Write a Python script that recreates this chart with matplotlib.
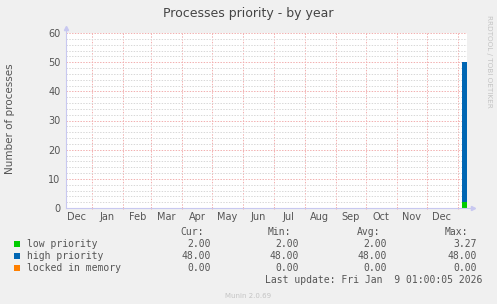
import matplotlib
matplotlib.use("Agg")
import matplotlib.pyplot as plt
import matplotlib.dates as mdates
import numpy as np
import pandas as pd
from matplotlib.patches import Rectangle
from matplotlib.ticker import MultipleLocator, NullFormatter

W, H = 497, 304
BG = "#f0f0f0"
AXIS_COLOR = "#c8c8f0"
MAJOR_GRID = "#f2b0b0"
MINOR_GRID = "#d8d8d8"
TEXT_COLOR = "#555555"

# data
dates = pd.to_datetime(["2026-01-05", "2026-01-10"])
low_priority = [2.0, 2.0]
high_priority = [48.0, 48.0]
locked_in_memory = [0.0, 0.0]

series_names = ["low priority", "high priority", "locked in memory"]
series_colors = ["#00cc00", "#0066b3", "#ff8000"]
cur = ["2.00", "48.00", "0.00"]
mins = ["2.00", "48.00", "0.00"]
avgs = ["2.00", "48.00", "0.00"]
maxs = ["3.27", "48.00", "0.00"]

x_start = pd.Timestamp("2024-12-06")
x_end = pd.Timestamp("2026-01-10")


def fx(px):
    return px / W


def fy(py):
    return 1 - py / H


fig = plt.figure(figsize=(W / 100, H / 100), dpi=100, facecolor=BG)
ax = fig.add_axes([fx(66), fy(208), fx(467) - fx(66), fy(33) - fy(208)])
ax.set_facecolor("white")

# stacked areas
base = np.zeros(len(dates))
for vals, color in zip([low_priority, high_priority, locked_in_memory], series_colors):
    top = base + np.array(vals)
    ax.fill_between(dates, base, top, color=color, linewidth=0, zorder=3)
    base = top

ax.set_xlim(x_start, x_end)
ax.set_ylim(0, 60)

ax.yaxis.set_major_locator(MultipleLocator(10))
ax.yaxis.set_minor_locator(MultipleLocator(2))
ax.xaxis.set_major_locator(mdates.MonthLocator())
ax.xaxis.set_major_formatter(NullFormatter())
ax.xaxis.set_minor_locator(mdates.MonthLocator(bymonthday=16))
ax.xaxis.set_minor_formatter(mdates.DateFormatter("%b"))

ax.grid(which="major", axis="both", color=MAJOR_GRID, linestyle=(0, (1.4, 1.4)), linewidth=0.72, zorder=1)
ax.grid(which="minor", axis="y", color=MINOR_GRID, linestyle=(0, (1.4, 1.4)), linewidth=0.72, zorder=0)

ax.tick_params(axis="y", which="major", length=0, labelsize=7, labelcolor=TEXT_COLOR, pad=4)
ax.tick_params(axis="y", which="minor", length=0)
ax.tick_params(axis="x", which="major", length=2, color=MAJOR_GRID, direction="inout")
ax.tick_params(axis="x", which="minor", length=0, labelsize=7, labelcolor=TEXT_COLOR, pad=3)

for s in ax.spines.values():
    s.set_visible(False)

# axis lines with arrows
ax.plot([0, 0], [0, 1.03], transform=ax.transAxes, color=AXIS_COLOR, lw=0.8, clip_on=False, zorder=4)
ax.plot([0, 1.015], [0, 0], transform=ax.transAxes, color=AXIS_COLOR, lw=0.8, clip_on=False, zorder=4)
ax.plot([0], [1.03], marker="^", ms=3, color=AXIS_COLOR, transform=ax.transAxes, clip_on=False, zorder=4)
ax.plot([1.015], [0], marker=">", ms=3, color=AXIS_COLOR, transform=ax.transAxes, clip_on=False, zorder=4)

fig.text(fx(248), fy(14), "Processes priority - by year", ha="center", va="center",
         fontsize=9, color="#444444")
fig.text(fx(10), fy(119), "Number of processes", rotation=90, ha="center", va="center",
         fontsize=7.5, color=TEXT_COLOR)
fig.text(fx(489), fy(15), "RRDTOOL / TOBI OETIKER", rotation=270, ha="center", va="top",
         fontsize=5.2, color="#c4c4c4")

# legend table
mono = "DejaVu Sans Mono"
fig.text(fx(204), fy(232), "Cur:", ha="right", va="center", family=mono, fontsize=7, color=TEXT_COLOR)
fig.text(fx(291), fy(232), "Min:", ha="right", va="center", family=mono, fontsize=7, color=TEXT_COLOR)
fig.text(fx(380), fy(232), "Avg:", ha="right", va="center", family=mono, fontsize=7, color=TEXT_COLOR)
fig.text(fx(468), fy(232), "Max:", ha="right", va="center", family=mono, fontsize=7, color=TEXT_COLOR)

row_y = [244, 256, 268]
for i, name in enumerate(series_names):
    y = row_y[i]
    fig.patches.append(Rectangle((fx(14), fy(y + 3)), fx(6), 6 / H, transform=fig.transFigure,
                                 facecolor=series_colors[i], edgecolor="none"))
    fig.text(fx(27), fy(y), name, ha="left", va="center", family=mono, fontsize=7, color=TEXT_COLOR)
    fig.text(fx(211), fy(y), cur[i], ha="right", va="center", family=mono, fontsize=7, color=TEXT_COLOR)
    fig.text(fx(299), fy(y), mins[i], ha="right", va="center", family=mono, fontsize=7, color=TEXT_COLOR)
    fig.text(fx(387), fy(y), avgs[i], ha="right", va="center", family=mono, fontsize=7, color=TEXT_COLOR)
    fig.text(fx(477), fy(y), maxs[i], ha="right", va="center", family=mono, fontsize=7, color=TEXT_COLOR)

fig.text(fx(482), fy(280), "Last update: Fri Jan  9 01:00:05 2026", ha="right", va="center",
         family=mono, fontsize=7, color=TEXT_COLOR)
fig.text(fx(248), fy(296), "Munin 2.0.69", ha="center", va="center", fontsize=5, color="#c4c4c4")

fig.savefig("out.png", dpi=100, facecolor=BG)
